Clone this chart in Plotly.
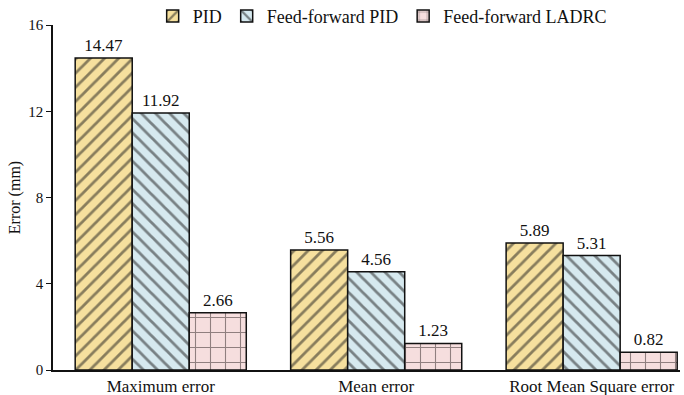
import plotly.graph_objects as go

categories = ["Maximum error", "Mean error", "Root Mean Square error"]
pid = [14.47, 5.56, 5.89]
ff_pid = [11.92, 4.56, 5.31]
ff_ladrc = [2.66, 1.23, 0.82]
series_names = ["PID", "Feed-forward PID", "Feed-forward LADRC"]
y_ticks = [0, 4, 8, 12, 16]

FONT = "Liberation Serif, Times New Roman, serif"

styles = [
    dict(bg="#f6e09e", fg="#1a1a1a", shape="/", size=10, solidity=0.28),
    dict(bg="#d6e9ef", fg="#1a1a1a", shape="\\", size=10, solidity=0.28),
    dict(bg="#f6dede", fg="#2a1f1f", shape="+", size=15, solidity=0.14),
]

fig = go.Figure()
for name, vals, st in zip(series_names, [pid, ff_pid, ff_ladrc], styles):
    fig.add_trace(go.Bar(
        name=name,
        x=categories,
        y=vals,
        text=[f"{v:.2f}" for v in vals],
        textposition="outside",
        textfont=dict(family=FONT, size=17, color="#111"),
        cliponaxis=False,
        marker=dict(
            color=st["bg"],
            line=dict(color="#111", width=1.5),
            pattern=dict(shape=st["shape"], fgcolor=st["fg"], bgcolor=st["bg"],
                         size=st["size"], solidity=st["solidity"], fillmode="overlay"),
        ),
    ))

fig.update_layout(
    width=684, height=395,
    margin=dict(l=53, r=4, t=25, b=25, autoexpand=False),
    paper_bgcolor="white", plot_bgcolor="white",
    barmode="group", bargap=0.206, bargroupgap=0,
    font=dict(family=FONT, size=15, color="#111"),
    showlegend=True,
    legend=dict(orientation="h", x=0.525, xanchor="center", y=1.025, yanchor="middle",
                font=dict(family=FONT, size=18), bgcolor="rgba(0,0,0,0)",
                itemwidth=30, tracegroupgap=0),
    xaxis=dict(range=[-0.5, 2.41], showline=True, linecolor="#111", linewidth=1.5,
               ticks="", showgrid=False, zeroline=False,
               tickfont=dict(family=FONT, size=17)),
    yaxis=dict(range=[0, 16], tickvals=y_ticks, showline=True, linecolor="#111",
               linewidth=1.5, ticks="outside", ticklen=5, tickcolor="#111",
               showgrid=False, zeroline=False,
               tickfont=dict(family=FONT, size=15),
               title=dict(text="Error (mm)", font=dict(family=FONT, size=16), standoff=4)),
)

fig.write_html("out.html")
